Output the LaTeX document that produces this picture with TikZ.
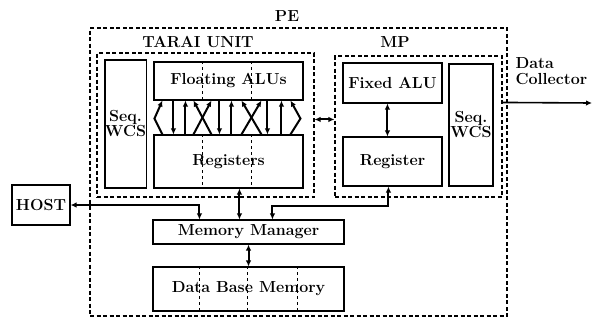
\documentclass[tikz,border=0pt]{standalone}
\usetikzlibrary{arrows.meta,calc}
\begin{document}
\begin{tikzpicture}[x=1pt,y=-1pt,
  lbl/.style={font=\fontsize{16}{17}\selectfont\bfseries},
  box/.style={draw, line width=1.1pt, inner sep=0pt, lbl},
  dbox/.style={draw, dashed, dash pattern=on 4pt off 2.5pt, line width=1.1pt, inner sep=0pt},
  arr/.style={line width=2pt, -{Latex[length=6pt,width=5.5pt]}},
  dbl/.style={line width=2pt, {Latex[length=6pt,width=5.5pt]}-{Latex[length=6pt,width=5.5pt]}},
  thin dash/.style={line width=0.8pt, dash pattern=on 3pt off 3pt}]
\useasboundingbox (0,0) rectangle (593,322);
% containers
\node[dbox, minimum width=417, minimum height=288] (pe) at (298.5,172) {};
\node[dbox, minimum width=217, minimum height=144] (tarai) at (205.5,125) {};
\node[dbox, minimum width=167, minimum height=141] (mp) at (418.5,126.5) {};
\node[lbl] (pel) at (287,16) {PE};
\node[lbl] (tarail) at (198,42) {TARAI UNIT};
\node[lbl] (mpl) at (395,42) {MP};
% TARAI unit
\node[box, minimum width=41, minimum height=128, align=center] (seql) at (125.5,124) {Seq.\\[-2pt]WCS};
\node[box, minimum width=149, minimum height=38] (falu) at (228.5,81) {Floating ALUs};
\node[box, minimum width=149, minimum height=53] (regs) at (228.5,161.5) {Registers};
% MP
\node[box, minimum width=99, minimum height=40] (fixalu) at (392.5,83) {Fixed ALU};
\node[box, minimum width=99, minimum height=49] (mpreg) at (392.5,161.5) {Register};
\node[box, minimum width=44, minimum height=122, align=center] (seqr) at (471,125) {Seq.\\[-2pt]WCS};
% lower part
\node[box, minimum width=58, minimum height=40] (host) at (41,205) {HOST};
\node[box, minimum width=191, minimum height=24] (mm) at (248.5,232) {Memory Manager};
\node[box, minimum width=191, minimum height=44] (dbm) at (248.5,289) {Data Base Memory};
\node[lbl, align=left, anchor=north west] (dcl) at (512,54) {Data\\[-1pt]Collector};
\coordinate (dc) at (592,103);
% internal dashed separators
\foreach \o in {49,98}{
  \draw[thin dash] ($(falu.north west)+(\o,0)$) -- ($(falu.south west)+(\o,0)$);
  \draw[thin dash] ($(regs.north west)+(\o,0)$) -- ($(regs.south west)+(\o,0)$);
}
\foreach \o in {47,95,145}{
  \draw[thin dash] ($(dbm.north west)+(\o,0)$) -- ($(dbm.south west)+(\o,0)$);
}
% ALU <-> register paths
\draw[arr] ($(regs.north west)+(9,0)$) -- ($(falu.south west)+(1,18)$) -- ($(falu.south west)+(9,0)$);
\foreach \o in {20,66,114}{
  \draw[arr] ($(falu.south west)+(\o,0)$) -- ($(regs.north west)+(\o,0)$);
}
\foreach \o in {32,78,128}{
  \draw[arr] ($(regs.north west)+(\o,0)$) -- ($(falu.south west)+(\o,0)$);
}
\foreach \a/\b in {40/58,88/108}{
  \draw[arr] ($(regs.north west)+(\b,0)$) -- ($(falu.south west)+(\a,0)$);
  \draw[arr] ($(regs.north west)+(\a,0)$) -- ($(falu.south west)+(\b,0)$);
}
\draw[arr] ($(regs.north west)+(137,0)$) -- ($(falu.south west)+(147,18)$) -- ($(falu.south west)+(137,0)$);
% other connectors
\draw[dbl] ($(tarai.north east)+(0,67)$) -- ($(mp.north west)+(0,64)$);
\draw[dbl] ($(fixalu.south west)+(45,0)$) -- ($(mpreg.north west)+(45,0)$);
\draw[arr, line width=1.6pt] ($(mp.north east)+(0,47)$) -- (dc);
\draw[dbl] (host.east) -| ($(mm.north west)+(47,0)$);
\draw[dbl] ($(regs.south west)+(86,0)$) -- ($(mm.north west)+(87,0)$);
\draw[dbl] ($(mpreg.south west)+(46,0)$) -- ++(0,19) -| ($(mm.north west)+(120,0)$);
\draw[dbl] (mm.south) -- (dbm.north);
\end{tikzpicture}
\end{document}
